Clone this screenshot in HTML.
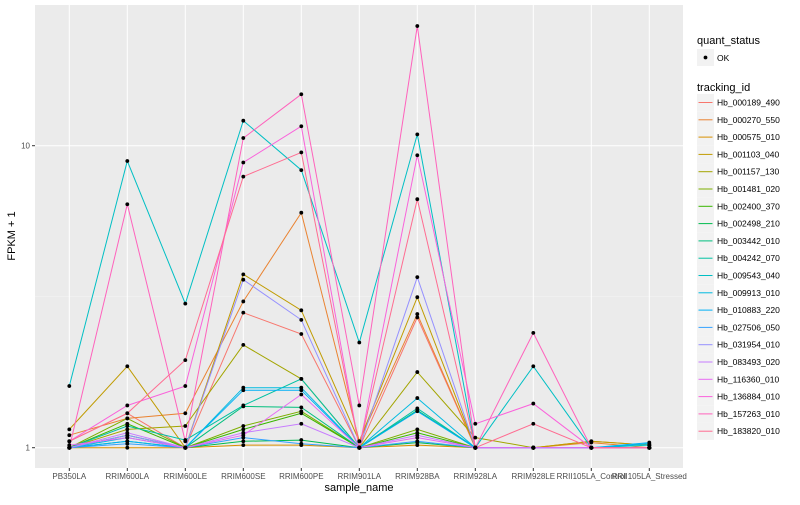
<!DOCTYPE html>
<html><head><meta charset="utf-8"><style>
body{margin:0;background:#fff;font-family:"Liberation Sans",sans-serif}
</style></head><body>
<svg id="chart" width="800" height="500" xmlns="http://www.w3.org/2000/svg" font-family="Liberation Sans, sans-serif"></svg>
<script>
const categories=["PB350LA","RRIM600LA","RRIM600LE","RRIM600SE","RRIM600PE","RRIM901LA","RRIM928BA","RRIM928LA","RRIM928LE","RRII105LA_Control","RRII105LA_Stressed"];
const seriesNames=["Hb_000189_490","Hb_000270_550","Hb_000575_010","Hb_001103_040","Hb_001157_130","Hb_001481_020","Hb_002400_370","Hb_002498_210","Hb_003442_010","Hb_004242_070","Hb_009543_040","Hb_009913_010","Hb_010883_220","Hb_027506_050","Hb_031954_010","Hb_083493_020","Hb_116360_010","Hb_136884_010","Hb_157263_010","Hb_183820_010"];
const colors=["#F8766D","#EA8331","#D89000","#C09B00","#A3A500","#7CAE00","#39B600","#00BB4E","#00BF7D","#00C1A3","#00BFC4","#00BAE0","#00B0F6","#35A2FF","#9590FF","#C77CFF","#E76BF3","#FA62DB","#FF62BC","#FF6C91"];
const v00=[1.05,1.3,1.0,2.8,2.38,1.0,2.7,1.0,1.0,1.0,1.0];
const v01=[1.1,1.25,1.3,3.05,6.0,1.05,2.77,1.0,1.0,1.04,1.0];
const v02=[1.0,1.0,1.0,1.02,1.02,1.0,1.02,1.0,1.0,1.05,1.02];
const v03=[1.15,1.86,1.0,3.75,2.85,1.05,3.15,1.0,1.0,1.05,1.02];
const v04=[1.0,1.15,1.18,2.19,1.69,1.0,1.78,1.08,1.0,1.0,1.0];
const v05=[1.0,1.25,1.0,1.18,1.32,1.0,1.15,1.0,1.0,1.0,1.0];
const v06=[1.0,1.2,1.0,1.15,1.3,1.0,1.12,1.0,1.0,1.0,1.0];
const v07=[1.0,1.1,1.0,1.05,1.06,1.0,1.04,1.0,1.0,1.0,1.0];
const v08=[1.0,1.05,1.0,1.37,1.36,1.0,1.33,1.0,1.0,1.0,1.0];
const v09=[1.0,1.18,1.06,1.38,1.69,1.0,1.35,1.0,1.0,1.0,1.0];
const v10=[1.6,8.9,3.0,12.1,8.3,2.23,10.9,1.0,1.86,1.0,1.02];
const v11=[1.0,1.08,1.0,1.58,1.58,1.0,1.46,1.0,1.0,1.0,1.03];
const v12=[1.0,1.05,1.0,1.55,1.55,1.0,1.32,1.0,1.0,1.0,1.04];
const v13=[1.0,1.03,1.0,1.08,1.03,1.0,1.05,1.0,1.0,1.0,1.0];
const v14=[1.0,1.1,1.0,3.6,2.65,1.0,3.67,1.0,1.0,1.0,1.0];
const v15=[1.0,1.12,1.0,1.12,1.2,1.0,1.1,1.0,1.0,1.0,1.0];
const v16=[1.02,1.08,1.0,1.1,1.5,1.0,1.08,1.0,1.0,1.0,1.0];
const v17=[1.05,1.38,1.6,8.8,11.6,1.0,9.3,1.2,1.4,1.0,1.0];
const v18=[1.0,6.4,1.05,10.6,14.8,1.38,24.9,1.0,2.4,1.0,1.0];
const v19=[1.05,1.3,1.95,7.9,9.5,1.0,6.65,1.0,1.2,1.0,1.0];
const seriesValues=[v00,v01,v02,v03,v04,v05,v06,v07,v08,v09,v10,v11,v12,v13,v14,v15,v16,v17,v18,v19];
const yTicks=[1,10];
const yTickLabels=["1","10"];

const svg=document.getElementById('chart');
const NS="http://www.w3.org/2000/svg";
function mk(t,a,p){const e=document.createElementNS(NS,t);for(const k in a)e.setAttribute(k,a[k]);(p||svg).appendChild(e);return e;}
const PL=35,PR=683,PT=5,PB=468;
function xs(i){return 69.3+i*58;}
function ys(v){return 447.7-302*Math.log10(v);}
const bg=mk('rect',{x:PL,y:PT,width:PR-PL,height:PB-PT,fill:'#EBEBEB'});


[Math.sqrt(10),Math.sqrt(1000),1/Math.sqrt(10)].forEach(v=>{const y=ys(v);if(y>PT&&y<PB){const g=mk('line',{x1:PL,x2:PR,y1:y,y2:y,stroke:'#F5F5F5','stroke-width':0.5});}});
yTicks.forEach((v,i)=>{const y=ys(v);
 const g=mk('line',{x1:PL,x2:PR,y1:y,y2:y,stroke:'#fff','stroke-width':1});
 
 
 mk('line',{x1:PL-3,x2:PL,y1:y,y2:y,stroke:'#333','stroke-width':1});
 const t=mk('text',{x:PL-5,y:y+3,'text-anchor':'end','font-size':8,fill:'#4D4D4D'});t.textContent=yTickLabels[i];
 
 
});
categories.forEach((c,i)=>{const x=xs(i);
 const g=mk('line',{x1:x,x2:x,y1:PT,y2:PB,stroke:'#fff','stroke-width':1});
 
 
 mk('line',{x1:x,x2:x,y1:PB,y2:PB+3,stroke:'#333','stroke-width':1});
 const t=mk('text',{x:x,y:PB+11,'text-anchor':'middle','font-size':8,fill:'#4D4D4D'});t.textContent=c;
 
 
});
seriesValues.forEach((vals,s)=>{
 const d=vals.map((v,i)=>(i?'L':'M')+xs(i).toFixed(1)+' '+ys(v).toFixed(1)).join(' ');
 const p=mk('path',{d:d,fill:'none',stroke:colors[s],'stroke-width':1});
 
 
});
seriesValues.forEach((vals,s)=>{vals.forEach((v,i)=>{
 const c=mk('circle',{cx:xs(i),cy:ys(v),r:1.9,fill:'#000'});
 
 
});});
let t=mk('text',{x:359,y:491,'text-anchor':'middle','font-size':11,fill:'#000'});t.textContent='sample_name';


t=mk('text',{x:15,y:236,'text-anchor':'middle','font-size':11,fill:'#000',transform:'rotate(-90 15 236)'});t.textContent='FPKM + 1';


t=mk('text',{x:697,y:44,'font-size':11,fill:'#000'});t.textContent='quant_status';


mk('rect',{x:697,y:49,width:17,height:17,fill:'#F2F2F2'});
mk('circle',{cx:705.5,cy:57.5,r:1.9,fill:'#000'});
t=mk('text',{x:717,y:61,'font-size':8.5,fill:'#000'});t.textContent='OK';


t=mk('text',{x:697,y:91,'font-size':11,fill:'#000'});t.textContent='tracking_id';


seriesNames.forEach((n,i)=>{const cy=102.5+i*17.3;
 mk('rect',{x:697,y:cy-8.6,width:17,height:17.3,fill:'#F2F2F2'});
 mk('line',{x1:698.5,x2:712.5,y1:cy,y2:cy,stroke:colors[i],'stroke-width':1});
 const tt=mk('text',{x:717,y:cy+3,'font-size':8.5,fill:'#000'});tt.textContent=n;
 
 
});
</script>
</body></html>
